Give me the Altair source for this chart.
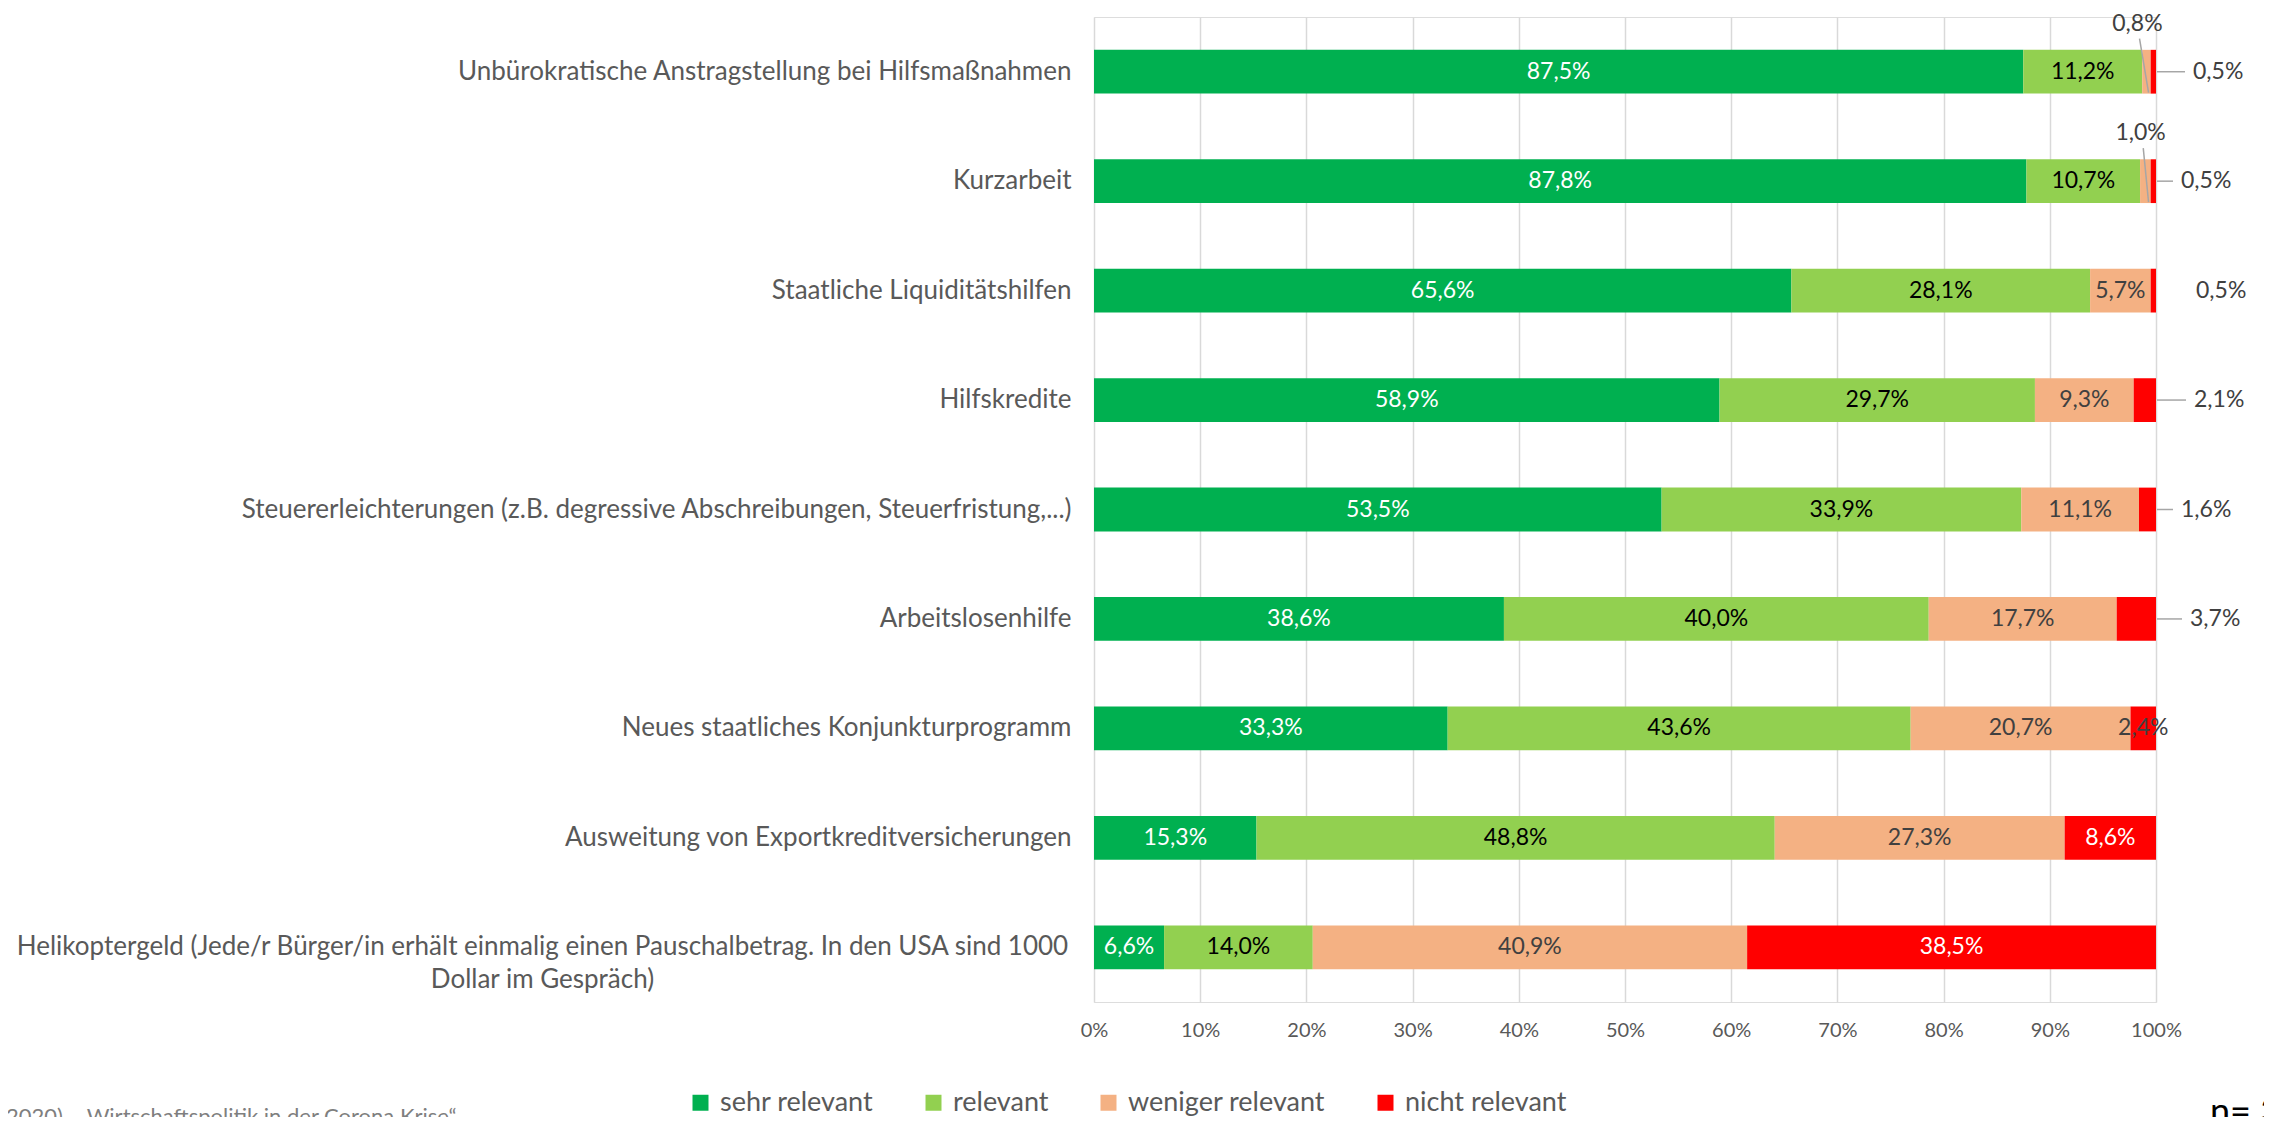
import altair as alt
import pandas as pd

categories = [
    "Unbürokratische Anstragstellung bei Hilfsmaßnahmen",
    "Kurzarbeit",
    "Staatliche Liquiditätshilfen",
    "Hilfskredite",
    "Steuererleichterungen (z.B. degressive Abschreibungen, Steuerfristung,...)",
    "Arbeitslosenhilfe",
    "Neues staatliches Konjunkturprogramm",
    "Ausweitung von Exportkreditversicherungen",
    "Helikoptergeld (Jede/r Bürger/in erhält einmalig einen Pauschalbetrag. In den USA sind 1000|Dollar im Gespräch)",
]
series = ["sehr relevant", "relevant", "weniger relevant", "nicht relevant"]
sehr_relevant = [87.5, 87.8, 65.6, 58.9, 53.5, 38.6, 33.3, 15.3, 6.6]
relevant = [11.2, 10.7, 28.1, 29.7, 33.9, 40.0, 43.6, 48.8, 14.0]
weniger_relevant = [0.8, 1.0, 5.7, 9.3, 11.1, 17.7, 20.7, 27.3, 40.9]
nicht_relevant = [0.5, 0.5, 0.5, 2.1, 1.6, 3.7, 2.4, 8.6, 38.5]
colors = ["#00B050", "#92D050", "#F4B183", "#FF0000"]
label_colors = ["#FFFFFF", "#000000", "#404040", "#FFFFFF"]
x_ticks = list(range(0, 101, 10))
footnote = "2020) – Wirtschaftspolitik in der Corona Krise“"
n_text = "n= 3"

# ---- layout / style parameters ----
W, H = 1062, 985
PX = 100 / W  # percent per pixel on the x scale
FONT = "Lato"
# weniger-relevant labels placed above the bar: (label shift, leader start, leader end) in % from segment mid
above_rows = {0: (-0.85, -0.65, 0.2), 1: (-0.45, -0.2, 0.3)}
right_rows = {0: 37, 1: 25, 2: 40, 3: 38, 4: 25, 5: 34}  # nicht-relevant labels right of bar (px)
right_leader_rows = [0, 1, 3, 4, 5]
dark_inside = {(6, 3)}

values = [sehr_relevant, relevant, weniger_relevant, nicht_relevant]
recs = []
for i, cat in enumerate(categories):
    total = sum(v[i] for v in values)
    cum = 0.0
    for j, s in enumerate(series):
        v = values[j][i]
        start = cum / total * 100
        cum += v
        end = cum / total * 100
        mid = (start + end) / 2
        place = "inside"
        tx = mid
        lx1 = lx2 = None
        if j == 2 and i in above_rows:
            place = "above"
            sh, a, b = above_rows[i]
            tx = mid + sh
            lx1, lx2 = mid + a, mid + b
        if j == 3 and i in right_rows:
            place = "right"
            tx = 100 + right_rows[i] * PX
            if i in right_leader_rows:
                lx1, lx2 = 100 + 1 * PX, 100 + (right_rows[i] - 8) * PX
        lc = label_colors[j]
        if (i, j) in dark_inside:
            lc = "#404040"
        recs.append(dict(cat=cat, series=s, value=v, start=start, end=end, tx=tx,
                         place=place, lx1=lx1, lx2=lx2, lcolor=lc,
                         label=f"{v:.1f}".replace(".", ",") + "%"))
df = pd.DataFrame(recs)

yenc = alt.Y(
    "cat:N", sort=categories,
    scale=alt.Scale(paddingInner=0.6, paddingOuter=0.3),
    axis=alt.Axis(
        title=None, ticks=False, domain=False, grid=False,
        labelFont=FONT, labelFontSize=26, labelColor="#595959",
        labelLimit=1400, labelLineHeight=33,
        labelExpr="split(datum.label, '|')",
        labelAlign={"condition": {"test": "indexof(datum.value, 'Helikopter') == 0", "value": "center"}, "value": "right"},
        labelPadding={"condition": {"test": "indexof(datum.value, 'Helikopter') == 0", "value": 552}, "value": 23},
    ),
)
xscale = alt.Scale(domain=[0, 100], nice=False, zero=True)

base = alt.Chart(df)

bars = base.mark_bar().encode(
    y=yenc,
    x=alt.X("start:Q", scale=xscale,
            axis=alt.Axis(title=None, values=x_ticks, labelExpr="datum.value + '%'",
                          ticks=False, domain=False, grid=True, gridColor="#D9D9D9",
                          gridWidth=1.5, labelFont=FONT, labelFontSize=20,
                          labelColor="#595959", labelPadding=18, labelFlush=False)),
    x2="end:Q",
    color=alt.Color("series:N", sort=series,
                    scale=alt.Scale(domain=series, range=colors),
                    legend=alt.Legend(orient="none", legendX=-407, legendY=1072,
                                      direction="horizontal", title=None,
                                      symbolType="square", symbolSize=256,
                                      symbolStrokeWidth=0, symbolOpacity=1,
                                      labelFont=FONT, labelFontSize=27,
                                      labelColor="#595959", labelOffset=6,
                                      columnPadding=46, padding=0, labelLimit=0)),
)

inside = base.transform_filter("datum.place == 'inside'").mark_text(
    font=FONT, fontSize=23, baseline="middle", align="center"
).encode(y=alt.Y("cat:N", sort=categories), x=alt.X("tx:Q"), text="label:N",
         color=alt.Color("lcolor:N", scale=None))

right = base.transform_filter("datum.place == 'right'").mark_text(
    font=FONT, fontSize=23, baseline="middle", align="left", color="#404040"
).encode(y=alt.Y("cat:N", sort=categories), x=alt.X("tx:Q"), text="label:N")

above = base.transform_filter("datum.place == 'above'").mark_text(
    font=FONT, fontSize=23, baseline="middle", align="center", color="#404040", dy=-48
).encode(y=alt.Y("cat:N", sort=categories), x=alt.X("tx:Q"), text="label:N")

right_lead = base.transform_filter("datum.place == 'right' && isValid(datum.lx1)").mark_rule(
    color="#A6A6A6", strokeWidth=1.5
).encode(y=alt.Y("cat:N", sort=categories), x="lx1:Q", x2="lx2:Q")

above_lead = base.transform_filter("datum.place == 'above'").mark_rule(
    color="#A6A6A6", strokeWidth=1.5, yOffset=-33, y2Offset=21
).encode(y=alt.Y("cat:N", sort=categories), y2=alt.Y2("cat:N"), x="lx1:Q", x2="lx2:Q")

notes = alt.Chart(pd.DataFrame({"t": [footnote]})).mark_text(
    font=FONT, fontSize=22, color="#7F7F7F", align="left", baseline="top"
).encode(x=alt.value(-1088), y=alt.value(1090), text="t:N")

ntxt = alt.Chart(pd.DataFrame({"t": [n_text]})).mark_text(
    font=FONT, fontSize=36, color="#000000", align="left", baseline="middle"
).encode(x=alt.value(1116), y=alt.value(1096), text="t:N")

chart = alt.layer(bars, right_lead, above_lead, inside, right, above, notes, ntxt).properties(
    width=W, height=H,
    autosize=alt.AutoSizeParams(type="none"),
    padding={"left": 1086, "top": 9, "right": 108, "bottom": 115},
).configure_view(stroke=None).configure(background="white", font=FONT)

chart.save("out.html", embed_options={"renderer": "svg", "actions": False})
